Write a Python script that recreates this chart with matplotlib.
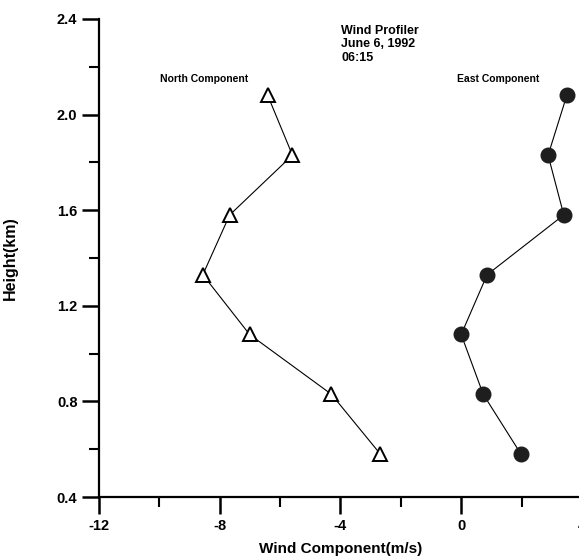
import matplotlib
matplotlib.use("Agg")
import matplotlib.pyplot as plt
from matplotlib.ticker import MultipleLocator

plt.rcParams["font.family"] = ["Liberation Sans", "DejaVu Sans"]
plt.rcParams["font.weight"] = "bold"
plt.rcParams["axes.unicode_minus"] = False

## data read from the profile
height = [0.58, 0.83, 1.08, 1.33, 1.58, 1.83, 2.08]
north = [-2.68, -4.30, -7.01, -8.56, -7.67, -5.59, -6.41]
east = [1.98, 0.73, 0.0, 0.86, 3.40, 2.88, 3.50]

fig = plt.figure(figsize=(5.79, 5.56), dpi=100)
ax = fig.add_axes([0.171, 0.106, 0.834, 0.860])

ax.plot(north, height, color="black", lw=0.8, marker="^", ms=10.5,
        mfc="white", mec="black", mew=1.4, clip_on=False)
ax.plot(east, height, color="black", lw=0.8, marker="o", ms=10.5,
        mfc="#1e1e1e", mec="#1e1e1e", clip_on=False)

ax.set_xlim(-12, 4)
ax.set_ylim(0.4, 2.4)
ax.xaxis.set_major_locator(MultipleLocator(4))
ax.xaxis.set_minor_locator(MultipleLocator(2))
ax.yaxis.set_major_locator(MultipleLocator(0.4))
ax.yaxis.set_minor_locator(MultipleLocator(0.2))
ax.yaxis.set_major_formatter(plt.FormatStrFormatter("%.1f"))

for s in ["top", "right"]:
    ax.spines[s].set_visible(False)
for s in ["left", "bottom"]:
    ax.spines[s].set_linewidth(1.6)

ax.tick_params(which="major", direction="out", length=12, width=1.8,
               labelsize=10.5)
ax.tick_params(which="minor", direction="out", length=7, width=1.5)
for lab in ax.get_xticklabels() + ax.get_yticklabels():
    lab.set_fontweight("bold")

ax.set_xlabel("Wind Component(m/s)", fontsize=11, fontweight="bold")
ax.set_ylabel("Height(km)", fontsize=11.5, fontweight="bold")
ax.xaxis.set_label_coords(0.5, -0.093)
ax.yaxis.set_label_coords(-0.168, 0.5)

ax.text(-3.97, 2.375, "Wind Profiler\nJune 6, 1992\n06:15", fontsize=9,
        fontweight="bold", va="top", ha="left", linespacing=1.15)
ax.text(-9.98, 2.15, "North Component", fontsize=7.5, fontweight="bold",
        va="center", ha="left")
ax.text(-0.13, 2.15, "East Component", fontsize=7.5, fontweight="bold",
        va="center", ha="left")

fig.savefig("out.png", dpi=100)
